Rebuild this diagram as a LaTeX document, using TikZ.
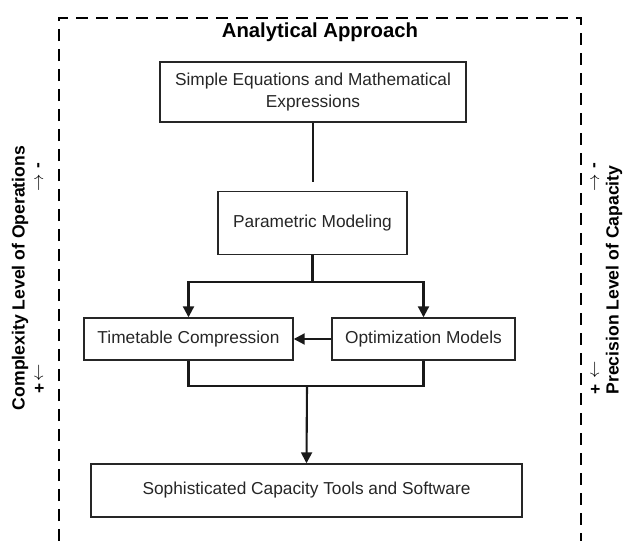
\documentclass[tikz,border=0pt]{standalone}
\usepackage{fontspec}
\setmainfont{Liberation Sans}
\usetikzlibrary{arrows.meta}
\begin{document}
\begin{tikzpicture}[x=1pt,y=-1pt,
  box/.style={draw=black!85, line width=1.4pt, align=center, inner sep=0pt,
    font=\fontsize{17.3}{21.5}\selectfont, text=black!85},
  conn/.style={line width=2.1pt, black!90},
  arr/.style={conn, -{Triangle[length=11pt,width=11pt]}},
  side/.style={rotate=90, inner sep=0pt, font=\bfseries\fontsize{17.6}{20}\selectfont},
  sign/.style={rotate=90, inner sep=0pt, font=\fontsize{17.3}{20}\selectfont},
  bsign/.style={sign, font=\bfseries\fontsize{17.3}{20}\selectfont}]
\useasboundingbox (0,0) rectangle (625,541);
% dashed frame (open at bottom)
\draw[line width=1.9pt, dash pattern=on 12pt off 8pt] (59,541) -- (59,18) -- (581,18) -- (581,541);
\node[font=\bfseries\fontsize{20.3}{24}\selectfont] (title) at (320,32) {Analytical Approach};
% boxes
\node[box, minimum width=306pt, minimum height=60pt] (b1) at (313,92) {Simple Equations and Mathematical\\Expressions};
\node[box, minimum width=189pt, minimum height=63pt] (b2) at (312.5,223) {Parametric Modeling};
\node[box, minimum width=209pt, minimum height=42pt] (b3) at (188.5,339) {Timetable Compression};
\node[box, minimum width=183pt, minimum height=42pt] (b4) at (423.5,339) {Optimization Models};
\node[box, minimum width=431pt, minimum height=53pt] (b5) at (306.5,490.5) {Sophisticated Capacity Tools and Software};
% connectors
\coordinate (g) at (313,182);
\coordinate (j1) at (312.5,282);
\coordinate (j2) at (307,386);
\draw[conn] (b1.south) -- (g);
\draw[conn] (b2.south) -- (j1);
\draw[arr] (j1) -| (b3.north);
\draw[arr] (j1) -| (b4.north);
\draw[arr] (b4.west) -- (b3.east);
\draw[conn] (b3.south) |- (j2) -| (b4.south);
\draw[arr] (j2) -- (b5.north);
% side labels
\node[side] (lside) at (20,278) {Complexity Level of Operations};
\node[side] (rside) at (614,280) {Precision Level of Capacity};
\node[bsign] (lminus) at (40,166) {-};
\node[sign] (lup) at (40,183) {$\rightarrow$};
\node[sign] (ldown) at (40,373) {$\leftarrow$};
\node[bsign] (lplus) at (40,388) {+};
\node[bsign] (rminus) at (596,166) {-};
\node[sign] (rup) at (596,183) {$\rightarrow$};
\node[sign] (rdown) at (596,370) {$\leftarrow$};
\node[bsign] (rplus) at (596,389) {+};
\end{tikzpicture}
\end{document}
